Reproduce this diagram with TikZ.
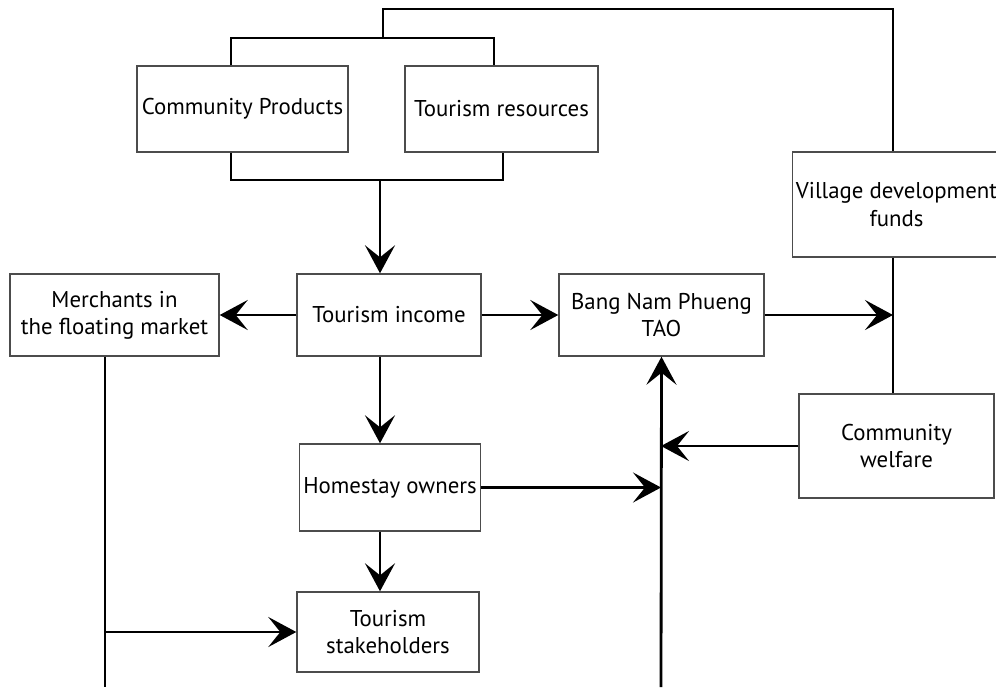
\documentclass[tikz,border=0pt]{standalone}
\usepackage{fontspec}
\setmainfont{PT Sans}
\usetikzlibrary{arrows.meta}

\tikzset{box/.style={draw=black!70, line width=0.8pt, align=center, inner sep=2pt,
    font=\fontsize{13}{15.5}\selectfont},
  conn/.style={line width=1.6pt, line join=miter},
  arr/.style={conn, -{Stealth[length=5.6mm,width=6mm,inset=2.4mm]}}}

\begin{document}
\begin{tikzpicture}[x=0.02cm,y=-0.02cm]
  \useasboundingbox (0,0) rectangle (996,687);
  \node[box, minimum width=211*0.02cm, minimum height=86*0.02cm] (prod) at (242.5,109) {Community Products};
  \node[box, minimum width=193*0.02cm, minimum height=86*0.02cm] (res) at (501.5,109) {Tourism resources};
  \node[box, minimum width=209*0.02cm, minimum height=82*0.02cm] (merch) at (114.5,315) {Merchants in\\the floating market};
   \node[box, minimum width=184*0.02cm, minimum height=82*0.02cm] (income) at (389,315) {Tourism income};
   \node[box, minimum width=205*0.02cm, minimum height=82*0.02cm] (tao) at (661.5,315) {Bang Nam Phueng\\TAO};
  \node[box, minimum width=195*0.02cm, minimum height=105*0.02cm] (vdf) at (896.5,204.5) {Village development\\funds};
  \node[box, minimum width=195*0.02cm, minimum height=104*0.02cm] (welfare) at (896.5,446) {Community\\welfare};
   \node[box, minimum width=176*0.02cm, minimum height=87*0.02cm] (home) at (390,487.5) {Homestay owners};
   \node[box, minimum width=182*0.02cm, minimum height=80*0.02cm] (stake) at (388,632) {Tourism\\stakeholders};
  \coordinate (topL) at (231,38);
  \coordinate (topR) at (494,38);
  \coordinate (topM) at (383,38);
  \coordinate (botL) at (231,180);
  \coordinate (botR) at (503,180);
  \coordinate (botM) at (380,180);
  \coordinate (roof) at (893,9);
  \coordinate (taobase) at (661,687);
  \coordinate (mbase) at (105,687);
  \draw [conn] (topL |- prod.north) -- (topL) -- (topR) -- (topR |- res.north);
  \draw [conn] (botL |- prod.south) -- (botL) -- (botR) -- (botR |- res.south);
  \draw [conn] (topM) |- (roof) -- (roof |- vdf.north);
  \draw [arr] (botM) -- (botM |- income.north);
  \draw [arr] (income.west) -- (merch.east);
  \draw [arr] (income.east) -- (tao.west);
  \draw [arr] (tao.east) -- (tao.east -| roof);
  \draw [conn] (roof |- vdf.south) -- (roof |- welfare.north);
  \draw [arr] (botM |- income.south) -- (botM |- home.north);
  \draw [arr] (botM |- home.south) -- (botM |- stake.north);
  \draw [arr] (taobase) -- (tao.south);
  \draw [arr] (welfare.west) -- (welfare.west -| taobase);
  \draw [arr] (home.east) -- (home.east -| taobase);
  \draw [conn] (merch.south -| mbase) -- (mbase);
  \draw [arr] (mbase |- stake.west) -- (stake.west);
\end{tikzpicture}
\end{document}
